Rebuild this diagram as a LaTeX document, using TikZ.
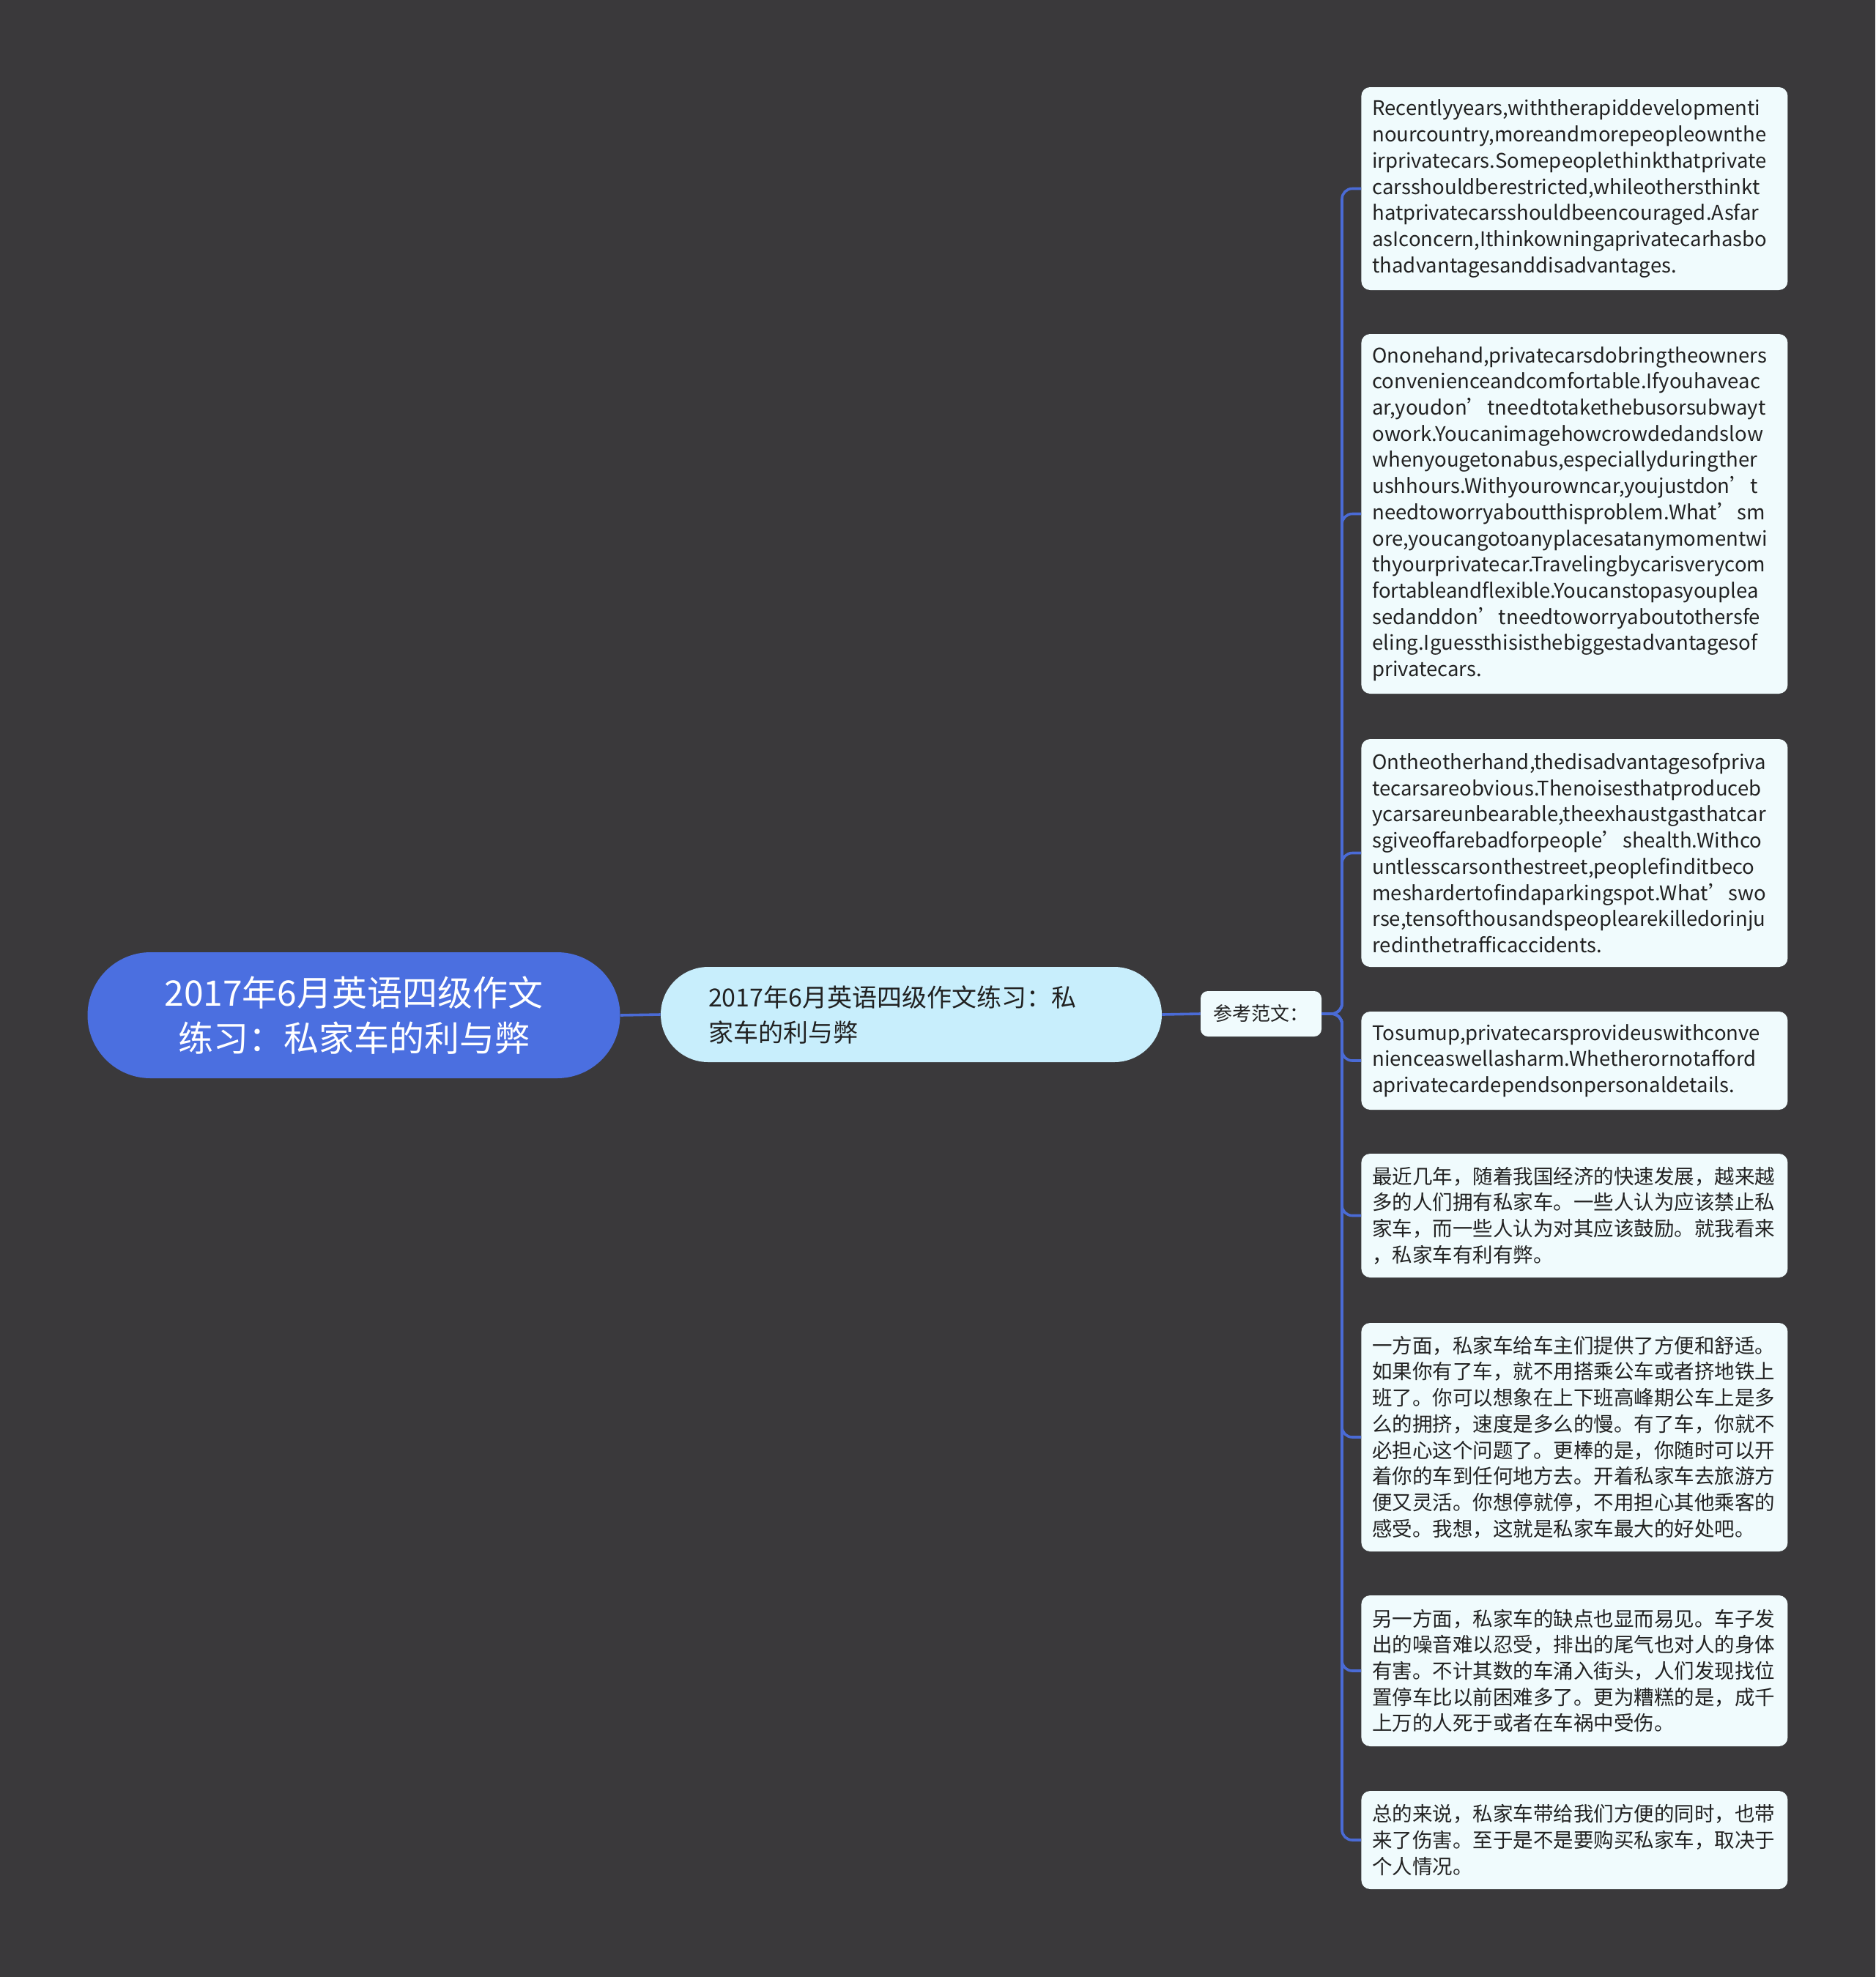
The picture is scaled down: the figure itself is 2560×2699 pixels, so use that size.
\documentclass[tikz,border=0pt]{standalone}
\usepackage{fontspec}
\setmainfont{Noto Sans CJK SC}
\lefthyphenmin=62
\usetikzlibrary{calc}
\definecolor{bg}{HTML}{3A393B}
\definecolor{rootblue}{HTML}{4B6FE0}
\definecolor{linkblue}{HTML}{4A6BD6}
\definecolor{lvlone}{HTML}{C8EEFC}
\definecolor{leaffill}{HTML}{F0FBFD}
\definecolor{ink}{HTML}{222222}
\tikzset{
  rootnode/.style={fill=rootblue, rounded corners=43pt, text=white, align=center,
    font=\fontsize{24}{31}\selectfont, inner sep=0pt, minimum width=363.5pt, minimum height=86pt},
  lvlnode/.style={fill=lvlone, rounded corners=32.5pt, text=ink, align=left, text width=277pt,
    font=\fontsize{17}{24}\selectfont, inner xsep=32.5pt, inner ysep=0pt, minimum height=65pt},
  refnode/.style={fill=leaffill, rounded corners=5pt, text=ink, align=center,
    font=\fontsize{13}{16}\selectfont, inner sep=0pt, minimum width=82.5pt, minimum height=31pt},
  leafnode/.style={fill=leaffill, rounded corners=6pt, text=ink, align=left, text width=276pt,
    font=\fontsize{13.75}{17.85}\selectfont, inner xsep=7.5pt, inner ysep=0pt, anchor=west},
  link/.style={draw=linkblue, line width=1.8pt, rounded corners=7pt},
}
\begin{document}
\begin{tikzpicture}[x=0.5pt,y=-0.5pt]
\useasboundingbox (0,0) rectangle (2560,2699);
\fill[bg] (0,0) rectangle (2560,2699);

\node[rootnode] (root) at (483,1386) {2017年6月英语四级作文\\练习：私家车的利与弊};
\node[lvlnode] (lvl) at (1244,1385) {2017年6月英语四级作文练习：私\\家车的利与弊};
\node[refnode] (ref) at (1721.5,1384) {参考范文：};

\node[leafnode, minimum height=138.5pt] (leafa) at (1858,257.5) {Recentlyyears,withtherapiddevelopmenti\\nourcountry,moreandmorepeopleownthe\\irprivatecars.Somepeoplethinkthatprivate\\carsshouldberestricted,whileothersthinkt\\hatprivatecarsshouldbeencouraged.Asfar\\asIconcern,Ithinkowningaprivatecarhasbo\\thadvantagesanddisadvantages.};
\node[leafnode, minimum height=245.5pt] (leafb) at (1858,701.5) {Ononehand,privatecarsdobringtheowners\\convenienceandcomfortable.Ifyouhaveac\\ar,youdon’tneedtotakethebusorsubwayt\\owork.Youcanimagehowcrowdedandslow\\whenyougetonabus,especiallyduringther\\ushhours.Withyourowncar,youjustdon’t\\needtoworryaboutthisproblem.What’sm\\ore,youcangotoanyplacesatanymomentwi\\thyourprivatecar.Travelingbycarisverycom\\fortableandflexible.Youcanstopasyouplea\\sedanddon’tneedtoworryaboutothersfe\\eling.Iguessthisisthebiggestadvantagesof\\privatecars.};
\node[leafnode, minimum height=155.5pt] (leafc) at (1858,1164.5) {Ontheotherhand,thedisadvantagesofpriva\\tecarsareobvious.Thenoisesthatproduceb\\ycarsareunbearable,theexhaustgasthatcar\\sgiveoffarebadforpeople’shealth.Withco\\untlesscarsonthestreet,peoplefinditbeco\\meshardertofindaparkingspot.What’swo\\rse,tensofthousandspeoplearekilledorinju\\redinthetrafficaccidents.};
\node[leafnode, minimum height=67pt] (leafd) at (1858,1448) {Tosumup,privatecarsprovideuswithconve\\nienceaswellasharm.Whetherornotafford\\aprivatecardependsonpersonaldetails.};
\node[leafnode, minimum height=84.5pt] (leafe) at (1858,1659.5) {最近几年，随着我国经济的快速发展，越来越\\多的人们拥有私家车。一些人认为应该禁止私\\家车，而一些人认为对其应该鼓励。就我看来\\，私家车有利有弊。};
\node[leafnode, minimum height=156pt] (leaff) at (1858,1962) {一方面，私家车给车主们提供了方便和舒适。\\如果你有了车，就不用搭乘公车或者挤地铁上\\班了。你可以想象在上下班高峰期公车上是多\\么的拥挤，速度是多么的慢。有了车，你就不\\必担心这个问题了。更棒的是，你随时可以开\\着你的车到任何地方去。开着私家车去旅游方\\便又灵活。你想停就停，不用担心其他乘客的\\感受。我想，这就是私家车最大的好处吧。};
\node[leafnode, minimum height=103pt] (leafg) at (1858,2281) {另一方面，私家车的缺点也显而易见。车子发\\出的噪音难以忍受，排出的尾气也对人的身体\\有害。不计其数的车涌入街头，人们发现找位\\置停车比以前困难多了。更为糟糕的是，成千\\上万的人死于或者在车祸中受伤。};
\node[leafnode, minimum height=67pt] (leafh) at (1858,2512) {总的来说，私家车带给我们方便的同时，也带\\来了伤害。至于是不是要购买私家车，取决于\\个人情况。};

\coordinate (trunk) at (1832,1384);
\draw[link] (root.east) -- (lvl.west);
\draw[link] (lvl.east) -- (ref.west);
\foreach \n in {leafa,leafb,leafc,leafd,leafe,leaff,leafg,leafh}{
  \draw[link] (ref.east) -- (trunk) |- (\n.west);
}
\end{tikzpicture}
\end{document}
